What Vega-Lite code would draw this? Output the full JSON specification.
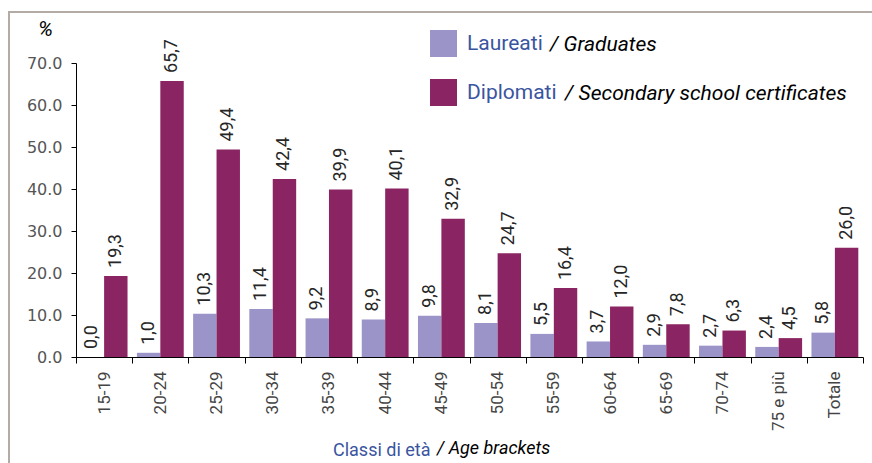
{
  "$schema": "https://vega.github.io/schema/vega-lite/v6.json",
  "width": 787,
  "height": 294,
  "autosize": {"type": "none"},
  "padding": {"left": 76, "top": 63, "right": 9, "bottom": 106},
  "background": "white",
  "data": {
    "values": [
      {"eta": "15-19", "serie": "Laureati", "en": "Graduates", "valore": 0.0},
      {"eta": "15-19", "serie": "Diplomati", "en": "Secondary school certificates", "valore": 19.3},
      {"eta": "20-24", "serie": "Laureati", "en": "Graduates", "valore": 1.0},
      {"eta": "20-24", "serie": "Diplomati", "en": "Secondary school certificates", "valore": 65.7},
      {"eta": "25-29", "serie": "Laureati", "en": "Graduates", "valore": 10.3},
      {"eta": "25-29", "serie": "Diplomati", "en": "Secondary school certificates", "valore": 49.4},
      {"eta": "30-34", "serie": "Laureati", "en": "Graduates", "valore": 11.4},
      {"eta": "30-34", "serie": "Diplomati", "en": "Secondary school certificates", "valore": 42.4},
      {"eta": "35-39", "serie": "Laureati", "en": "Graduates", "valore": 9.2},
      {"eta": "35-39", "serie": "Diplomati", "en": "Secondary school certificates", "valore": 39.9},
      {"eta": "40-44", "serie": "Laureati", "en": "Graduates", "valore": 8.9},
      {"eta": "40-44", "serie": "Diplomati", "en": "Secondary school certificates", "valore": 40.1},
      {"eta": "45-49", "serie": "Laureati", "en": "Graduates", "valore": 9.8},
      {"eta": "45-49", "serie": "Diplomati", "en": "Secondary school certificates", "valore": 32.9},
      {"eta": "50-54", "serie": "Laureati", "en": "Graduates", "valore": 8.1},
      {"eta": "50-54", "serie": "Diplomati", "en": "Secondary school certificates", "valore": 24.7},
      {"eta": "55-59", "serie": "Laureati", "en": "Graduates", "valore": 5.5},
      {"eta": "55-59", "serie": "Diplomati", "en": "Secondary school certificates", "valore": 16.4},
      {"eta": "60-64", "serie": "Laureati", "en": "Graduates", "valore": 3.7},
      {"eta": "60-64", "serie": "Diplomati", "en": "Secondary school certificates", "valore": 12.0},
      {"eta": "65-69", "serie": "Laureati", "en": "Graduates", "valore": 2.9},
      {"eta": "65-69", "serie": "Diplomati", "en": "Secondary school certificates", "valore": 7.8},
      {"eta": "70-74", "serie": "Laureati", "en": "Graduates", "valore": 2.7},
      {"eta": "70-74", "serie": "Diplomati", "en": "Secondary school certificates", "valore": 6.3},
      {"eta": "75 e più", "serie": "Laureati", "en": "Graduates", "valore": 2.4},
      {"eta": "75 e più", "serie": "Diplomati", "en": "Secondary school certificates", "valore": 4.5},
      {"eta": "Totale", "serie": "Laureati", "en": "Graduates", "valore": 5.8},
      {"eta": "Totale", "serie": "Diplomati", "en": "Secondary school certificates", "valore": 26.0}
    ]
  },
  "transform": [
    {"calculate": "replace(format(datum.valore, '.1f'), '.', ',')", "as": "etichetta"},
    {"calculate": "datum.en", "as": "en2"}
  ],
  "encoding": {
    "x": {
      "field": "eta",
      "type": "nominal",
      "sort": null,
      "scale": {"paddingInner": 0, "paddingOuter": 0},
      "axis": {
        "title": "Classi di età",
        "titleColor": "#3a55a0",
        "titleFont": "Roboto",
        "titleFontSize": 18,
        "titleFontWeight": "normal",
        "titleX": 354,
        "titleY": 98,
        "titleAlign": "right",
        "titleBaseline": "alphabetic",
        "labelAngle": 270,
        "labelFont": "Roboto",
        "labelFontSize": 17,
        "labelColor": "#444444",
        "labelPadding": 8,
        "labelOverlap": false,
        "tickBand": "extent",
        "tickSize": 6,
        "tickColor": "#000000",
        "domainColor": "#000000",
        "grid": false
      }
    },
    "xOffset": {
      "field": "serie",
      "type": "nominal",
      "sort": ["Laureati", "Diplomati"],
      "scale": {"paddingInner": 0, "paddingOuter": 0.2}
    },
    "y": {
      "field": "valore",
      "type": "quantitative",
      "scale": {"domain": [0, 70], "nice": false},
      "axis": {
        "title": "%",
        "titleAngle": 0,
        "titleX": -31,
        "titleY": -28,
        "titleAlign": "center",
        "titleBaseline": "alphabetic",
        "titleFont": "Roboto",
        "titleFontStyle": "italic",
        "titleFontWeight": "normal",
        "titleFontSize": 21,
        "titleColor": "#000000",
        "values": [0, 10, 20, 30, 40, 50, 60, 70],
        "format": ".1f",
        "labelFont": "DejaVu Sans",
        "labelFontSize": 16,
        "labelColor": "#555555",
        "labelPadding": 9,
        "tickSize": 5,
        "tickColor": "#000000",
        "domainColor": "#000000",
        "grid": false
      }
    }
  },
  "layer": [
    {
      "mark": {"type": "bar"},
      "encoding": {
        "fill": {
          "field": "serie",
          "type": "nominal",
          "scale": {"domain": ["Laureati", "Diplomati"], "range": ["#9b94c9", "#8b2462"]},
          "legend": {
            "title": null,
            "orient": "none",
            "legendX": 354,
            "legendY": -33,
            "padding": 0,
            "symbolType": "square",
            "symbolSize": 729,
            "symbolStrokeWidth": 0,
            "symbolOpacity": 1,
            "labelFont": "Roboto",
            "labelFontSize": 21,
            "labelColor": "#3a55a0",
            "labelOffset": 10,
            "labelLimit": 400,
            "rowPadding": 22
          }
        },
        "stroke": {
          "field": "en",
          "type": "nominal",
          "scale": {"domain": ["Graduates", "Secondary school certificates"], "range": ["#9b94c9", "#8b2462"]},
          "legend": {
            "title": null,
            "orient": "none",
            "legendX": 435,
            "legendY": -33,
            "padding": 0,
            "values": ["Graduates"],
            "symbolType": "square",
            "symbolSize": 729,
            "symbolOpacity": 0,
            "labelExpr": "'/ ' + datum.label",
            "labelFont": "Roboto",
            "labelFontStyle": "italic",
            "labelFontSize": 21,
            "labelColor": "#000000",
            "labelOffset": 10,
            "labelLimit": 500
          }
        },
        "strokeDash": {
          "field": "en2",
          "type": "nominal",
          "sort": ["Graduates", "Secondary school certificates"],
          "scale": {"range": [[1, 0], [1, 0]]},
          "legend": {
            "title": null,
            "orient": "none",
            "legendX": 450,
            "legendY": 16,
            "padding": 0,
            "values": ["Secondary school certificates"],
            "symbolType": "square",
            "symbolSize": 729,
            "symbolOpacity": 0,
            "labelExpr": "'/ ' + datum.label",
            "labelFont": "Roboto",
            "labelFontStyle": "italic",
            "labelFontSize": 21,
            "labelColor": "#000000",
            "labelOffset": 10,
            "labelLimit": 500
          }
        },
        "strokeWidth": {
          "field": "valore",
          "type": "quantitative",
          "scale": {"range": [0, 0]},
          "legend": {
            "title": "/ Age brackets",
            "titleFont": "Roboto",
            "titleFontStyle": "italic",
            "titleFontWeight": "normal",
            "titleFontSize": 18,
            "titleColor": "#000000",
            "titleLimit": 400,
            "orient": "none",
            "legendX": -67,
            "legendY": -51,
            "padding": 428,
            "strokeColor": "#b3aba4",
            "symbolType": "square",
            "symbolOpacity": 0,
            "symbolSize": 10000,
            "labelExpr": "' '",
            "labelOffset": 300,
            "labelOpacity": 0
          }
        }
      }
    },
    {
      "mark": {
        "type": "text",
        "angle": 270,
        "align": "left",
        "baseline": "middle",
        "dx": 8,
        "font": "Roboto",
        "fontSize": 18,
        "color": "#262626"
      },
      "encoding": {
        "text": {"field": "etichetta", "type": "nominal"}
      }
    }
  ],
  "config": {
    "view": {"stroke": null},
    "axis": {"grid": false},
    "legend": {"strokeWidth": 2}
  }
}
